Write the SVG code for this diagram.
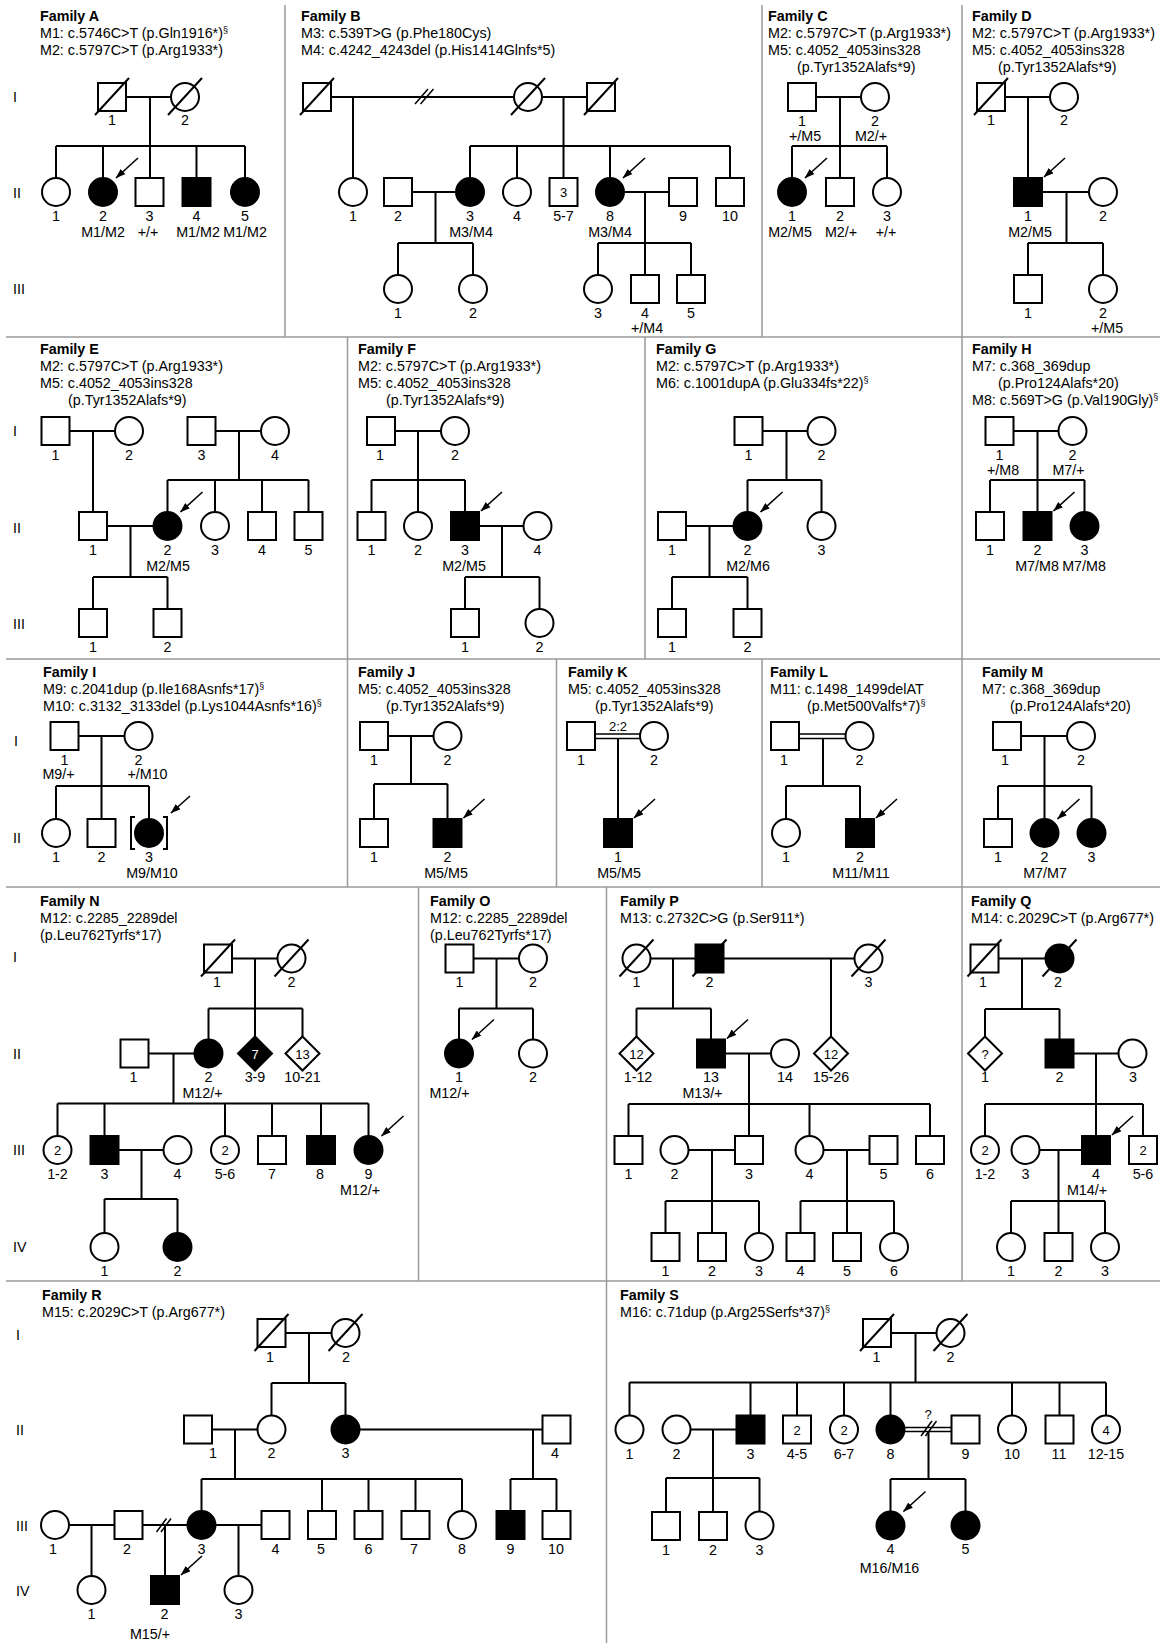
<svg xmlns="http://www.w3.org/2000/svg" xmlns:xlink="http://www.w3.org/1999/xlink" width="1163" height="1643" viewBox="0 0 1163 1643">
<style>
.n{fill:#fff;stroke:#000;stroke-width:2}
.f{fill:#000;stroke:#000;stroke-width:2}
.k{fill:none;stroke:#000;stroke-width:2}
.k2{fill:none;stroke:#000;stroke-width:1.5}
.dv{fill:none;stroke:#9a9a9a;stroke-width:1.5}
text{font-family:"Liberation Sans",Arial,Helvetica,sans-serif;font-size:14.3px;fill:#000}
.h{font-weight:bold}
.m{text-anchor:middle}
.w{fill:#fff}
.s{font-size:13px}
</style>
<defs>
<marker id="ah" viewBox="0 0 10 7" refX="9.5" refY="3.5" markerWidth="10" markerHeight="7" orient="auto" markerUnits="userSpaceOnUse"><path d="M0 0L10 3.5 0 7Z" fill="#000"/></marker>
<rect id="q" x="-14" y="-14" width="28" height="28"/>
<circle id="o" r="14"/>
<path id="dm" d="M0-17L17 0 0 17-17 0Z"/>
<path id="x" d="M-17 18L17-19" fill="none" stroke="#000" stroke-width="2"/>
<path id="ac" d="M35-34L13-14" fill="none" stroke="#000" stroke-width="1.6" marker-end="url(#ah)"/>
<path id="aq" d="M37-34L16-15" fill="none" stroke="#000" stroke-width="1.6" marker-end="url(#ah)"/>
</defs>
<rect width="1163" height="1643" fill="#fff"/>

<g id="dividers">
<path class="dv" d="M6 337H1160M6 659H1160M6 887H1160M6 1281H1160M285 5V337M762 5V337M962 5V1281M347.5 337V887M645 337V659M556.5 659V887M762 659V887M418.5 887V1281M606.5 887V1643"/>
</g>

<g id="generations">
<text x="13" y="102">I</text><text x="13" y="197.5">II</text><text x="13" y="294">III</text>
<text x="13" y="436">I</text><text x="13" y="532.5">II</text><text x="13" y="629">III</text>
<text x="14" y="746">I</text><text x="13" y="843">II</text>
<text x="13" y="962">I</text><text x="13" y="1058.5">II</text><text x="13" y="1155">III</text><text x="13" y="1252">IV</text>
<text x="16" y="1340">I</text><text x="16" y="1434.5">II</text><text x="16" y="1531">III</text><text x="16" y="1596">IV</text>
</g>

<g id="headers">
<g id="hA"><text class="h" x="40" y="20.5">Family A</text><text x="40" y="37.5">M1: c.5746C&gt;T (p.Gln1916*)<tspan font-size="9" dy="-5">§</tspan></text><text x="40" y="54.5">M2: c.5797C&gt;T (p.Arg1933*)</text></g>
<g id="hB"><text class="h" x="301" y="20.5">Family B</text><text x="301" y="37.5">M3: c.539T&gt;G (p.Phe180Cys)</text><text x="301" y="54.5">M4: c.4242_4243del (p.His1414Glnfs*5)</text></g>
<g id="hC"><text class="h" x="768" y="20.5">Family C</text><text x="768" y="37.5">M2: c.5797C&gt;T (p.Arg1933*)</text><text x="768" y="54.5">M5: c.4052_4053ins328</text><text x="797" y="71.5">(p.Tyr1352Alafs*9)</text></g>
<g id="hD"><text class="h" x="972" y="20.5">Family D</text><text x="972" y="37.5">M2: c.5797C&gt;T (p.Arg1933*)</text><text x="972" y="54.5">M5: c.4052_4053ins328</text><text x="998" y="71.5">(p.Tyr1352Alafs*9)</text></g>
<g id="hE"><text class="h" x="40" y="354">Family E</text><text x="40" y="371">M2: c.5797C&gt;T (p.Arg1933*)</text><text x="40" y="388">M5: c.4052_4053ins328</text><text x="68" y="405">(p.Tyr1352Alafs*9)</text></g>
<g id="hF"><text class="h" x="358" y="354">Family F</text><text x="358" y="371">M2: c.5797C&gt;T (p.Arg1933*)</text><text x="358" y="388">M5: c.4052_4053ins328</text><text x="386" y="405">(p.Tyr1352Alafs*9)</text></g>
<g id="hG"><text class="h" x="656" y="354">Family G</text><text x="656" y="371">M2: c.5797C&gt;T (p.Arg1933*)</text><text x="656" y="388">M6: c.1001dupA (p.Glu334fs*22)<tspan font-size="9" dy="-5">§</tspan></text></g>
<g id="hH"><text class="h" x="972" y="354">Family H</text><text x="972" y="371">M7: c.368_369dup</text><text x="998" y="388">(p.Pro124Alafs*20)</text><text x="972" y="405">M8: c.569T&gt;G (p.Val190Gly)<tspan font-size="9" dy="-5">§</tspan></text></g>
<g id="hI"><text class="h" x="43" y="677">Family I</text><text x="43" y="694">M9: c.2041dup (p.Ile168Asnfs*17)<tspan font-size="9" dy="-5">§</tspan></text><text x="43" y="711">M10: c.3132_3133del (p.Lys1044Asnfs*16)<tspan font-size="9" dy="-5">§</tspan></text></g>
<g id="hJ"><text class="h" x="358" y="677">Family J</text><text x="358" y="694">M5: c.4052_4053ins328</text><text x="386" y="711">(p.Tyr1352Alafs*9)</text></g>
<g id="hK"><text class="h" x="568" y="677">Family K</text><text x="568" y="694">M5: c.4052_4053ins328</text><text x="595" y="711">(p.Tyr1352Alafs*9)</text></g>
<g id="hL"><text class="h" x="770" y="677">Family L</text><text x="770" y="694">M11: c.1498_1499delAT</text><text x="807" y="711">(p.Met500Valfs*7)<tspan font-size="9" dy="-5">§</tspan></text></g>
<g id="hM"><text class="h" x="982" y="677">Family M</text><text x="982" y="694">M7: c.368_369dup</text><text x="1010" y="711">(p.Pro124Alafs*20)</text></g>
<g id="hN"><text class="h" x="40" y="906">Family N</text><text x="40" y="923">M12: c.2285_2289del</text><text x="40" y="940">(p.Leu762Tyrfs*17)</text></g>
<g id="hO"><text class="h" x="430" y="906">Family O</text><text x="430" y="923">M12: c.2285_2289del</text><text x="430" y="940">(p.Leu762Tyrfs*17)</text></g>
<g id="hP"><text class="h" x="620" y="906">Family P</text><text x="620" y="923">M13: c.2732C&gt;G (p.Ser911*)</text></g>
<g id="hQ"><text class="h" x="971" y="906">Family Q</text><text x="971" y="923">M14: c.2029C&gt;T (p.Arg677*)</text></g>
<g id="hR"><text class="h" x="42" y="1300">Family R</text><text x="42" y="1317">M15: c.2029C&gt;T (p.Arg677*)</text></g>
<g id="hS"><text class="h" x="620" y="1300">Family S</text><text x="620" y="1317">M16: c.71dup (p.Arg25Serfs*37)<tspan font-size="9" dy="-5">§</tspan></text></g>
</g>

<g id="connectors">
<path class="k" d="M126 97H171M150 97V178M56 146H245M56 146V178M103 146V178M196.5 146V178M245 146V178"/>
<path class="k" d="M331 97H514M353 97V178M542 97H587M563.5 97V178M470 146H730M470 146V178M517 146V178M610 146V178M730 146V178M412 192H456M435.5 192V243M398 243H473M398 243V275M473 243V275M624 192H669M645 192V275M598 243H691M598 243V275M691 243V275"/>
<path class="k2" d="M415 104L428 89M420.5 104L433.5 89"/>
<path class="k" d="M816 97H861M840 97V178M792 146H887M792 146V178M887 146V178"/>
<path class="k" d="M1005 97H1050M1028 97V178M1042 192H1089M1066.5 192V243M1028 243H1103M1028 243V275M1103 243V275"/>
<path class="k" d="M69.5 431H115M93 431V512M215.5 431H261M239 431V480M167.5 480H308.5M167.5 480V512M215 480V512M262 480V512M308.5 480V512M107 526H153.5M130.5 526V577M93 577H167.5M93 577V609M167.5 577V609"/>
<path class="k" d="M395 431H441M418 431V512M371.5 480H465M371.5 480V512M465 480V512M479 526H523.5M502 526V577M465 577H539.5M465 577V609M539.5 577V609"/>
<path class="k" d="M762.5 431H807.5M786.5 431V480M747.5 480H821.5M747.5 480V512M821.5 480V512M686 526H733.5M709.5 526V577M672 577H747.5M672 577V609M747.5 577V609"/>
<path class="k" d="M1013.5 431H1058.5M1037.5 431V512M990 480H1084.5M990 480V512M1084.5 480V512"/>
<path class="k" d="M78.5 736H124.5M101.5 736V819M56 786H149M56 786V819M149 786V819"/>
<path class="k" d="M135 817H131V849H135M163 817H167V849H163"/>
<path class="k" d="M388 736H433.5M411 736V784M374 784H447.5M374 784V819M447.5 784V819"/>
<path class="k2" d="M595 734H640M595 738.5H640"/>
<path class="k" d="M618 738V819"/>
<path class="k2" d="M799 734H845.5M799 738.5H845.5"/>
<path class="k" d="M823 738V786M786 786H860M786 786V819M860 786V819"/>
<path class="k" d="M1021 736H1067M1044.5 736V819M998 786H1091.5M998 786V819M1091.5 786V819"/>
<path class="k" d="M232 958.5H277.5M255 958.5V1036.5M208.5 1008.5H302.5M208.5 1008.5V1039.5M302.5 1008.5V1036.5M148.5 1053.5H194.5M173.5 1053.5V1103.5M57.5 1103.5H368.5M57.5 1103.5V1136M104.5 1103.5V1136M225 1103.5V1136M272 1103.5V1136M321 1103.5V1136M368.5 1103.5V1136M118.5 1150H163.5M141.5 1150V1199M104.5 1199H177.5M104.5 1199V1233M177.5 1199V1233"/>
<path class="k" d="M473.5 958.5H519M496.5 958.5V1008.5M459 1008.5H533M459 1008.5V1039.5M533 1008.5V1039.5"/>
<path class="k" d="M650.5 958.5H695.5M673 958.5V1008.5M636.5 1008.5H711M636.5 1008.5V1036.5M711 1008.5V1039.5M723.5 958.5H854.5M831 958.5V1036.5M725 1053.5H771M749 1053.5V1104M628.5 1104H930M628.5 1104V1136M749 1104V1136M809.5 1104V1136M930 1104V1136M688.5 1150H735M712 1150V1201M665.5 1201H759M665.5 1201V1233M712 1201V1233M759 1201V1233M823.5 1150H869.5M847 1150V1201M800.5 1201H894M800.5 1201V1233M847 1201V1233M894 1201V1233"/>
<path class="k" d="M998.5 958.5H1045.5M1022 958.5V1009M985 1009H1059.5M985 1009V1036.5M1059.5 1009V1039.5M1073.5 1053.5H1118.5M1096 1053.5V1136M985 1104H1143M985 1104V1136M1143 1104V1136M1039.5 1150H1082M1058.5 1150V1201M1011 1201H1105M1011 1201V1233M1058.5 1201V1233M1105 1201V1233"/>
<path class="k" d="M285.5 1333H331.5M309 1333V1383M271.5 1383H345.5M271.5 1383V1415.5M345.5 1383V1415.5M212 1429.5H257.5M235 1429.5V1479M201.5 1479H462M201.5 1479V1511M322 1479V1511M368.5 1479V1511M415.5 1479V1511M462 1479V1511M359.5 1429.5H542.5M533 1429.5V1479M510.5 1479H556.5M510.5 1479V1511M556.5 1479V1511M69 1525H114.5M91.5 1525V1576M142.5 1525H187.5M165 1525V1576M215.5 1525H261.5M238.5 1525V1576"/>
<path class="k2" d="M156.5 1532L166.5 1518.5M161 1532L171 1518.5"/>
<path class="k" d="M891 1333H936.5M915.5 1333V1382.5M629.5 1382.5H1106M629.5 1382.5V1415.5M750.5 1382.5V1415.5M797 1382.5V1415.5M844 1382.5V1415.5M890.5 1382.5V1415.5M1012 1382.5V1415.5M1059.5 1382.5V1415.5M1106 1382.5V1415.5M690.5 1429.5H736.5M713 1429.5V1478M666 1478H759.5M666 1478V1512M713 1478V1512M759.5 1478V1511.5M928.5 1431.5V1479M890.5 1479H965.5M890.5 1479V1511.5M965.5 1479V1511.5"/>
<path class="k2" d="M904.5 1427.5H951.5M904.5 1431.5H951.5M921 1436L932 1421M925.5 1436L936.5 1421"/>
</g>

<g id="famA">
<g id="A-I-1"><use href="#q" x="112" y="97" class="n"/><use href="#x" x="112" y="97"/><text class="m" x="112" y="125">1</text></g>
<g id="A-I-2"><use href="#o" x="185" y="97" class="n"/><use href="#x" x="185" y="97"/><text class="m" x="185" y="125">2</text></g>
<g id="A-II-1"><use href="#o" x="56" y="192" class="n"/><text class="m" x="56" y="220.5">1</text></g>
<g id="A-II-2"><use href="#o" x="103" y="192" class="f"/><use href="#ac" x="103" y="192"/><text class="m" x="103" y="220.5">2</text><text class="m" x="103" y="236.5">M1/M2</text></g>
<g id="A-II-3"><use href="#q" x="149.5" y="192" class="n"/><text class="m" x="149.5" y="220.5">3</text><text class="m" x="148" y="236.5">+/+</text></g>
<g id="A-II-4"><use href="#q" x="196.5" y="192" class="f"/><text class="m" x="196.5" y="220.5">4</text><text class="m" x="198" y="236.5">M1/M2</text></g>
<g id="A-II-5"><use href="#o" x="245" y="192" class="f"/><text class="m" x="245" y="220.5">5</text><text class="m" x="245" y="236.5">M1/M2</text></g>
</g>

<g id="famB">
<g id="B-I-1"><use href="#q" x="317" y="97" class="n"/><use href="#x" x="317" y="97"/></g>
<g id="B-I-2"><use href="#o" x="528" y="97" class="n"/><use href="#x" x="528" y="97"/></g>
<g id="B-I-3"><use href="#q" x="601" y="97" class="n"/><use href="#x" x="601" y="97"/></g>
<g id="B-II-1"><use href="#o" x="353" y="192" class="n"/><text class="m" x="353" y="220.5">1</text></g>
<g id="B-II-2"><use href="#q" x="398" y="192" class="n"/><text class="m" x="398" y="220.5">2</text></g>
<g id="B-II-3"><use href="#o" x="470" y="192" class="f"/><text class="m" x="470" y="220.5">3</text><text class="m" x="471" y="236.5">M3/M4</text></g>
<g id="B-II-4"><use href="#o" x="517" y="192" class="n"/><text class="m" x="517" y="220.5">4</text></g>
<g id="B-II-5-7"><use href="#q" x="563.5" y="192" class="n"/><text class="m s" x="563.5" y="197">3</text><text class="m" x="563.5" y="220.5">5-7</text></g>
<g id="B-II-8"><use href="#o" x="610" y="192" class="f"/><use href="#ac" x="610" y="192"/><text class="m" x="610" y="220.5">8</text><text class="m" x="610" y="236.5">M3/M4</text></g>
<g id="B-II-9"><use href="#q" x="683" y="192" class="n"/><text class="m" x="683" y="220.5">9</text></g>
<g id="B-II-10"><use href="#q" x="730" y="192" class="n"/><text class="m" x="730" y="220.5">10</text></g>
<g id="B-III-1"><use href="#o" x="398" y="289" class="n"/><text class="m" x="398" y="317.5">1</text></g>
<g id="B-III-2"><use href="#o" x="473" y="289" class="n"/><text class="m" x="473" y="317.5">2</text></g>
<g id="B-III-3"><use href="#o" x="598" y="289" class="n"/><text class="m" x="598" y="317.5">3</text></g>
<g id="B-III-4"><use href="#q" x="645" y="289" class="n"/><text class="m" x="645" y="317.5">4</text><text class="m" x="647" y="333">+/M4</text></g>
<g id="B-III-5"><use href="#q" x="691" y="289" class="n"/><text class="m" x="691" y="317.5">5</text></g>
</g>

<g id="famC">
<g id="C-I-1"><use href="#q" x="802" y="97" class="n"/><text class="m" x="802" y="125.5">1</text><text class="m" x="805" y="140.5">+/M5</text></g>
<g id="C-I-2"><use href="#o" x="875" y="97" class="n"/><text class="m" x="875" y="125.5">2</text><text class="m" x="871" y="140.5">M2/+</text></g>
<g id="C-II-1"><use href="#o" x="792" y="192" class="f"/><use href="#ac" x="792" y="192"/><text class="m" x="792" y="220.5">1</text><text class="m" x="790" y="236.5">M2/M5</text></g>
<g id="C-II-2"><use href="#q" x="840" y="192" class="n"/><text class="m" x="840" y="220.5">2</text><text class="m" x="841" y="236.5">M2/+</text></g>
<g id="C-II-3"><use href="#o" x="887" y="192" class="n"/><text class="m" x="887" y="220.5">3</text><text class="m" x="886" y="236.5">+/+</text></g>
</g>

<g id="famD">
<g id="D-I-1"><use href="#q" x="991" y="97" class="n"/><use href="#x" x="991" y="97"/><text class="m" x="991" y="125">1</text></g>
<g id="D-I-2"><use href="#o" x="1064" y="97" class="n"/><text class="m" x="1064" y="125">2</text></g>
<g id="D-II-1"><use href="#q" x="1028" y="192" class="f"/><use href="#aq" x="1028" y="192"/><text class="m" x="1028" y="220.5">1</text><text class="m" x="1030" y="236.5">M2/M5</text></g>
<g id="D-II-2"><use href="#o" x="1103" y="192" class="n"/><text class="m" x="1103" y="220.5">2</text></g>
<g id="D-III-1"><use href="#q" x="1028" y="289" class="n"/><text class="m" x="1028" y="317.5">1</text></g>
<g id="D-III-2"><use href="#o" x="1103" y="289" class="n"/><text class="m" x="1103" y="317.5">2</text><text class="m" x="1107" y="333">+/M5</text></g>
</g>

<g id="famE">
<g id="E-I-1"><use href="#q" x="55.5" y="431" class="n"/><text class="m" x="55.5" y="459.5">1</text></g>
<g id="E-I-2"><use href="#o" x="129" y="431" class="n"/><text class="m" x="129" y="459.5">2</text></g>
<g id="E-I-3"><use href="#q" x="201.5" y="431" class="n"/><text class="m" x="201.5" y="459.5">3</text></g>
<g id="E-I-4"><use href="#o" x="275" y="431" class="n"/><text class="m" x="275" y="459.5">4</text></g>
<g id="E-II-1"><use href="#q" x="93" y="526" class="n"/><text class="m" x="93" y="554.5">1</text></g>
<g id="E-II-2"><use href="#o" x="167.5" y="526" class="f"/><use href="#ac" x="167.5" y="526"/><text class="m" x="167.5" y="554.5">2</text><text class="m" x="168" y="570.5">M2/M5</text></g>
<g id="E-II-3"><use href="#o" x="215" y="526" class="n"/><text class="m" x="215" y="554.5">3</text></g>
<g id="E-II-4"><use href="#q" x="262" y="526" class="n"/><text class="m" x="262" y="554.5">4</text></g>
<g id="E-II-5"><use href="#q" x="308.5" y="526" class="n"/><text class="m" x="308.5" y="554.5">5</text></g>
<g id="E-III-1"><use href="#q" x="93" y="623" class="n"/><text class="m" x="93" y="651.5">1</text></g>
<g id="E-III-2"><use href="#q" x="167.5" y="623" class="n"/><text class="m" x="167.5" y="651.5">2</text></g>
</g>

<g id="famF">
<g id="F-I-1"><use href="#q" x="381" y="431" class="n"/><text class="m" x="380" y="459.5">1</text></g>
<g id="F-I-2"><use href="#o" x="455" y="431" class="n"/><text class="m" x="455" y="459.5">2</text></g>
<g id="F-II-1"><use href="#q" x="371.5" y="526" class="n"/><text class="m" x="371.5" y="554.5">1</text></g>
<g id="F-II-2"><use href="#o" x="418" y="526" class="n"/><text class="m" x="418" y="554.5">2</text></g>
<g id="F-II-3"><use href="#q" x="465" y="526" class="f"/><use href="#aq" x="465" y="526"/><text class="m" x="465" y="554.5">3</text><text class="m" x="464" y="570.5">M2/M5</text></g>
<g id="F-II-4"><use href="#o" x="537.5" y="526" class="n"/><text class="m" x="537.5" y="554.5">4</text></g>
<g id="F-III-1"><use href="#q" x="465" y="623" class="n"/><text class="m" x="465" y="651.5">1</text></g>
<g id="F-III-2"><use href="#o" x="539.5" y="623" class="n"/><text class="m" x="539.5" y="651.5">2</text></g>
</g>

<g id="famG">
<g id="G-I-1"><use href="#q" x="748.5" y="431" class="n"/><text class="m" x="748.5" y="459.5">1</text></g>
<g id="G-I-2"><use href="#o" x="821.5" y="431" class="n"/><text class="m" x="821.5" y="459.5">2</text></g>
<g id="G-II-1"><use href="#q" x="672" y="526" class="n"/><text class="m" x="672" y="554.5">1</text></g>
<g id="G-II-2"><use href="#o" x="747.5" y="526" class="f"/><use href="#ac" x="747.5" y="526"/><text class="m" x="747.5" y="554.5">2</text><text class="m" x="748" y="570.5">M2/M6</text></g>
<g id="G-II-3"><use href="#o" x="821.5" y="526" class="n"/><text class="m" x="821.5" y="554.5">3</text></g>
<g id="G-III-1"><use href="#q" x="672" y="623" class="n"/><text class="m" x="672" y="651.5">1</text></g>
<g id="G-III-2"><use href="#q" x="747.5" y="623" class="n"/><text class="m" x="747.5" y="651.5">2</text></g>
</g>

<g id="famH">
<g id="H-I-1"><use href="#q" x="999.5" y="431" class="n"/><text class="m" x="999.5" y="459.5">1</text><text class="m" x="1003" y="475">+/M8</text></g>
<g id="H-I-2"><use href="#o" x="1072.5" y="431" class="n"/><text class="m" x="1072.5" y="459.5">2</text><text class="m" x="1068.5" y="475">M7/+</text></g>
<g id="H-II-1"><use href="#q" x="990" y="526" class="n"/><text class="m" x="990" y="554.5">1</text></g>
<g id="H-II-2"><use href="#q" x="1037.5" y="526" class="f"/><use href="#aq" x="1037.5" y="526"/><text class="m" x="1037.5" y="554.5">2</text><text class="m" x="1037" y="570.5">M7/M8</text></g>
<g id="H-II-3"><use href="#o" x="1084.5" y="526" class="f"/><text class="m" x="1084.5" y="554.5">3</text><text class="m" x="1084" y="570.5">M7/M8</text></g>
</g>

<g id="famI">
<g id="I-I-1"><use href="#q" x="64.5" y="736" class="n"/><text class="m" x="64.5" y="764.5">1</text><text class="m" x="58.5" y="779">M9/+</text></g>
<g id="I-I-2"><use href="#o" x="138.5" y="736" class="n"/><text class="m" x="138.5" y="764.5">2</text><text class="m" x="147.5" y="779">+/M10</text></g>
<g id="I-II-1"><use href="#o" x="56" y="833" class="n"/><text class="m" x="56" y="861.5">1</text></g>
<g id="I-II-2"><use href="#q" x="101.5" y="833" class="n"/><text class="m" x="101.5" y="861.5">2</text></g>
<g id="I-II-3"><use href="#o" x="149" y="833" class="f"/><path d="M190 796L171 813" fill="none" stroke="#000" stroke-width="1.6" marker-end="url(#ah)"/><text class="m" x="149" y="861.5">3</text><text class="m" x="152" y="877.5">M9/M10</text></g>
</g>

<g id="famJ">
<g id="J-I-1"><use href="#q" x="374" y="736" class="n"/><text class="m" x="374" y="764.5">1</text></g>
<g id="J-I-2"><use href="#o" x="447.5" y="736" class="n"/><text class="m" x="447.5" y="764.5">2</text></g>
<g id="J-II-1"><use href="#q" x="374" y="833" class="n"/><text class="m" x="374" y="861.5">1</text></g>
<g id="J-II-2"><use href="#q" x="447.5" y="833" class="f"/><use href="#aq" x="447.5" y="833"/><text class="m" x="447.5" y="861.5">2</text><text class="m" x="446" y="877.5">M5/M5</text></g>
</g>

<g id="famK">
<text class="m s" x="618" y="731">2:2</text>
<g id="K-I-1"><use href="#q" x="581" y="736" class="n"/><text class="m" x="581" y="764.5">1</text></g>
<g id="K-I-2"><use href="#o" x="654" y="736" class="n"/><text class="m" x="654" y="764.5">2</text></g>
<g id="K-II-1"><use href="#q" x="618" y="833" class="f"/><use href="#aq" x="618" y="833"/><text class="m" x="618" y="861.5">1</text><text class="m" x="619" y="877.5">M5/M5</text></g>
</g>

<g id="famL">
<g id="L-I-1"><use href="#q" x="785" y="736" class="n"/><text class="m" x="784" y="764.5">1</text></g>
<g id="L-I-2"><use href="#o" x="859.5" y="736" class="n"/><text class="m" x="859.5" y="764.5">2</text></g>
<g id="L-II-1"><use href="#o" x="786" y="833" class="n"/><text class="m" x="786" y="861.5">1</text></g>
<g id="L-II-2"><use href="#q" x="860" y="833" class="f"/><use href="#aq" x="860" y="833"/><text class="m" x="860" y="861.5">2</text><text class="m" x="861" y="877.5">M11/M11</text></g>
</g>

<g id="famM">
<g id="M-I-1"><use href="#q" x="1007" y="736" class="n"/><text class="m" x="1005" y="764.5">1</text></g>
<g id="M-I-2"><use href="#o" x="1081" y="736" class="n"/><text class="m" x="1081" y="764.5">2</text></g>
<g id="M-II-1"><use href="#q" x="998" y="833" class="n"/><text class="m" x="998" y="861.5">1</text></g>
<g id="M-II-2"><use href="#o" x="1044.5" y="833" class="f"/><use href="#ac" x="1044.5" y="833"/><text class="m" x="1044.5" y="861.5">2</text><text class="m" x="1045" y="877.5">M7/M7</text></g>
<g id="M-II-3"><use href="#o" x="1091.5" y="833" class="f"/><text class="m" x="1091.5" y="861.5">3</text></g>
</g>

<g id="famN">
<g id="N-I-1"><use href="#q" x="218" y="958.5" class="n"/><use href="#x" x="218" y="958.5"/><text class="m" x="217" y="987">1</text></g>
<g id="N-I-2"><use href="#o" x="291.5" y="958.5" class="n"/><use href="#x" x="291.5" y="958.5"/><text class="m" x="291.5" y="987">2</text></g>
<g id="N-II-1"><use href="#q" x="134.5" y="1053.5" class="n"/><text class="m" x="133.5" y="1082">1</text></g>
<g id="N-II-2"><use href="#o" x="208.5" y="1053.5" class="f"/><text class="m" x="208.5" y="1082">2</text><text class="m" x="202.5" y="1098">M12/+</text></g>
<g id="N-II-3-9"><use href="#dm" x="255" y="1053.5" class="f"/><text class="m s w" x="255" y="1058.5">7</text><text class="m" x="255" y="1082">3-9</text></g>
<g id="N-II-10-21"><use href="#dm" x="302.5" y="1053.5" class="n"/><text class="m s" x="302.5" y="1058.5">13</text><text class="m" x="302.5" y="1082">10-21</text></g>
<g id="N-III-1-2"><use href="#o" x="57.5" y="1150" class="n"/><text class="m s" x="57.5" y="1155">2</text><text class="m" x="57.5" y="1178.5">1-2</text></g>
<g id="N-III-3"><use href="#q" x="104.5" y="1150" class="f"/><text class="m" x="104.5" y="1178.5">3</text></g>
<g id="N-III-4"><use href="#o" x="177.5" y="1150" class="n"/><text class="m" x="177.5" y="1178.5">4</text></g>
<g id="N-III-5-6"><use href="#o" x="225" y="1150" class="n"/><text class="m s" x="225" y="1155">2</text><text class="m" x="225" y="1178.5">5-6</text></g>
<g id="N-III-7"><use href="#q" x="272" y="1150" class="n"/><text class="m" x="272" y="1178.5">7</text></g>
<g id="N-III-8"><use href="#q" x="321" y="1150" class="f"/><text class="m" x="320" y="1178.5">8</text></g>
<g id="N-III-9"><use href="#o" x="368.5" y="1150" class="f"/><use href="#ac" x="368.5" y="1150"/><text class="m" x="368.5" y="1178.5">9</text><text class="m" x="360" y="1195">M12/+</text></g>
<g id="N-IV-1"><use href="#o" x="104.5" y="1247" class="n"/><text class="m" x="104.5" y="1275.5">1</text></g>
<g id="N-IV-2"><use href="#o" x="177.5" y="1247" class="f"/><text class="m" x="177.5" y="1275.5">2</text></g>
</g>

<g id="famO">
<g id="O-I-1"><use href="#q" x="459.5" y="958.5" class="n"/><text class="m" x="459.5" y="987">1</text></g>
<g id="O-I-2"><use href="#o" x="533" y="958.5" class="n"/><text class="m" x="533" y="987">2</text></g>
<g id="O-II-1"><use href="#o" x="459" y="1053.5" class="f"/><use href="#ac" x="459" y="1053.5"/><text class="m" x="459" y="1082">1</text><text class="m" x="449.5" y="1098">M12/+</text></g>
<g id="O-II-2"><use href="#o" x="533" y="1053.5" class="n"/><text class="m" x="533" y="1082">2</text></g>
</g>

<g id="famP">
<g id="P-I-1"><use href="#o" x="636.5" y="958.5" class="n"/><use href="#x" x="636.5" y="958.5"/><text class="m" x="636.5" y="987">1</text></g>
<g id="P-I-2"><use href="#q" x="709.5" y="958.5" class="f"/><use href="#x" x="709.5" y="958.5"/><text class="m" x="709.5" y="987">2</text></g>
<g id="P-I-3"><use href="#o" x="868.5" y="958.5" class="n"/><use href="#x" x="868.5" y="958.5"/><text class="m" x="868.5" y="987">3</text></g>
<g id="P-II-1-12"><use href="#dm" x="636.5" y="1053.5" class="n"/><text class="m s" x="636.5" y="1058.5">12</text><text class="m" x="638" y="1082">1-12</text></g>
<g id="P-II-13"><use href="#q" x="711" y="1053.5" class="f"/><use href="#aq" x="711" y="1053.5"/><text class="m" x="711" y="1082">13</text><text class="m" x="702.5" y="1098">M13/+</text></g>
<g id="P-II-14"><use href="#o" x="785" y="1053.5" class="n"/><text class="m" x="785" y="1082">14</text></g>
<g id="P-II-15-26"><use href="#dm" x="831" y="1053.5" class="n"/><text class="m s" x="831" y="1058.5">12</text><text class="m" x="831" y="1082">15-26</text></g>
<g id="P-III-1"><use href="#q" x="628.5" y="1150" class="n"/><text class="m" x="628.5" y="1178.5">1</text></g>
<g id="P-III-2"><use href="#o" x="674.5" y="1150" class="n"/><text class="m" x="674.5" y="1178.5">2</text></g>
<g id="P-III-3"><use href="#q" x="749" y="1150" class="n"/><text class="m" x="749" y="1178.5">3</text></g>
<g id="P-III-4"><use href="#o" x="809.5" y="1150" class="n"/><text class="m" x="809.5" y="1178.5">4</text></g>
<g id="P-III-5"><use href="#q" x="883.5" y="1150" class="n"/><text class="m" x="883.5" y="1178.5">5</text></g>
<g id="P-III-6"><use href="#q" x="930" y="1150" class="n"/><text class="m" x="930" y="1178.5">6</text></g>
<g id="P-IV-1"><use href="#q" x="665.5" y="1247" class="n"/><text class="m" x="665.5" y="1275.5">1</text></g>
<g id="P-IV-2"><use href="#q" x="712" y="1247" class="n"/><text class="m" x="712" y="1275.5">2</text></g>
<g id="P-IV-3"><use href="#o" x="759" y="1247" class="n"/><text class="m" x="759" y="1275.5">3</text></g>
<g id="P-IV-4"><use href="#q" x="800.5" y="1247" class="n"/><text class="m" x="800.5" y="1275.5">4</text></g>
<g id="P-IV-5"><use href="#q" x="847" y="1247" class="n"/><text class="m" x="847" y="1275.5">5</text></g>
<g id="P-IV-6"><use href="#o" x="894" y="1247" class="n"/><text class="m" x="894" y="1275.5">6</text></g>
</g>

<g id="famQ">
<g id="Q-I-1"><use href="#q" x="984.5" y="958.5" class="n"/><use href="#x" x="984.5" y="958.5"/><text class="m" x="983" y="987">1</text></g>
<g id="Q-I-2"><use href="#o" x="1059.5" y="958.5" class="f"/><use href="#x" x="1059.5" y="958.5"/><text class="m" x="1058" y="987">2</text></g>
<g id="Q-II-1"><use href="#dm" x="985" y="1053.5" class="n"/><text class="m s" x="985" y="1058.5">?</text><text class="m" x="985" y="1082">1</text></g>
<g id="Q-II-2"><use href="#q" x="1059.5" y="1053.5" class="f"/><text class="m" x="1059.5" y="1082">2</text></g>
<g id="Q-II-3"><use href="#o" x="1132.5" y="1053.5" class="n"/><text class="m" x="1133" y="1082">3</text></g>
<g id="Q-III-1-2"><use href="#o" x="985" y="1150" class="n"/><text class="m s" x="985" y="1155">2</text><text class="m" x="985" y="1178.5">1-2</text></g>
<g id="Q-III-3"><use href="#o" x="1025.5" y="1150" class="n"/><text class="m" x="1025.5" y="1178.5">3</text></g>
<g id="Q-III-4"><use href="#q" x="1096" y="1150" class="f"/><use href="#aq" x="1096" y="1150"/><text class="m" x="1096" y="1178.5">4</text><text class="m" x="1087" y="1195">M14/+</text></g>
<g id="Q-III-5-6"><use href="#q" x="1143" y="1150" class="n"/><text class="m s" x="1143" y="1155">2</text><text class="m" x="1143" y="1178.5">5-6</text></g>
<g id="Q-IV-1"><use href="#o" x="1011" y="1247" class="n"/><text class="m" x="1011" y="1275.5">1</text></g>
<g id="Q-IV-2"><use href="#q" x="1058.5" y="1247" class="n"/><text class="m" x="1058.5" y="1275.5">2</text></g>
<g id="Q-IV-3"><use href="#o" x="1105" y="1247" class="n"/><text class="m" x="1105" y="1275.5">3</text></g>
</g>

<g id="famR">
<g id="R-I-1"><use href="#q" x="271.5" y="1333" class="n"/><use href="#x" x="271.5" y="1333"/><text class="m" x="270" y="1362">1</text></g>
<g id="R-I-2"><use href="#o" x="345.5" y="1333" class="n"/><use href="#x" x="345.5" y="1333"/><text class="m" x="346" y="1362">2</text></g>
<g id="R-II-1"><use href="#q" x="198" y="1429.5" class="n"/><text class="m" x="213" y="1458">1</text></g>
<g id="R-II-2"><use href="#o" x="271.5" y="1429.5" class="n"/><text class="m" x="271.5" y="1458">2</text></g>
<g id="R-II-3"><use href="#o" x="345.5" y="1429.5" class="f"/><text class="m" x="345.5" y="1458">3</text></g>
<g id="R-II-4"><use href="#q" x="556.5" y="1429.5" class="n"/><text class="m" x="555" y="1458">4</text></g>
<g id="R-III-1"><use href="#o" x="55" y="1525" class="n"/><text class="m" x="53" y="1554">1</text></g>
<g id="R-III-2"><use href="#q" x="128.5" y="1525" class="n"/><text class="m" x="127" y="1554">2</text></g>
<g id="R-III-3"><use href="#o" x="201.5" y="1525" class="f"/><text class="m" x="201.5" y="1554">3</text></g>
<g id="R-III-4"><use href="#q" x="275.5" y="1525" class="n"/><text class="m" x="275.5" y="1554">4</text></g>
<g id="R-III-5"><use href="#q" x="322" y="1525" class="n"/><text class="m" x="321" y="1554">5</text></g>
<g id="R-III-6"><use href="#q" x="368.5" y="1525" class="n"/><text class="m" x="368.5" y="1554">6</text></g>
<g id="R-III-7"><use href="#q" x="415.5" y="1525" class="n"/><text class="m" x="414" y="1554">7</text></g>
<g id="R-III-8"><use href="#o" x="462" y="1525" class="n"/><text class="m" x="462" y="1554">8</text></g>
<g id="R-III-9"><use href="#q" x="510.5" y="1525" class="f"/><text class="m" x="510.5" y="1554">9</text></g>
<g id="R-III-10"><use href="#q" x="556.5" y="1525" class="n"/><text class="m" x="556" y="1554">10</text></g>
<g id="R-IV-1"><use href="#o" x="91.5" y="1590" class="n"/><text class="m" x="91.5" y="1619">1</text></g>
<g id="R-IV-2"><use href="#q" x="165" y="1590" class="f"/><use href="#aq" x="165" y="1590"/><text class="m" x="164.5" y="1619">2</text><text class="m" x="150" y="1638.5">M15/+</text></g>
<g id="R-IV-3"><use href="#o" x="238.5" y="1590" class="n"/><text class="m" x="238.5" y="1619">3</text></g>
</g>

<g id="famS">
<text class="m s" x="928" y="1419">?</text>
<g id="S-I-1"><use href="#q" x="877" y="1333" class="n"/><use href="#x" x="877" y="1333"/><text class="m" x="876.5" y="1362">1</text></g>
<g id="S-I-2"><use href="#o" x="950.5" y="1333" class="n"/><use href="#x" x="950.5" y="1333"/><text class="m" x="950.5" y="1362">2</text></g>
<g id="S-II-1"><use href="#o" x="629.5" y="1429.5" class="n"/><text class="m" x="629.5" y="1458.5">1</text></g>
<g id="S-II-2"><use href="#o" x="676.5" y="1429.5" class="n"/><text class="m" x="676.5" y="1458.5">2</text></g>
<g id="S-II-3"><use href="#q" x="750.5" y="1429.5" class="f"/><text class="m" x="750.5" y="1458.5">3</text></g>
<g id="S-II-4-5"><use href="#q" x="797" y="1429.5" class="n"/><text class="m s" x="797" y="1434.5">2</text><text class="m" x="797" y="1458.5">4-5</text></g>
<g id="S-II-6-7"><use href="#o" x="844" y="1429.5" class="n"/><text class="m s" x="844" y="1434.5">2</text><text class="m" x="844" y="1458.5">6-7</text></g>
<g id="S-II-8"><use href="#o" x="890.5" y="1429.5" class="f"/><text class="m" x="890.5" y="1458.5">8</text></g>
<g id="S-II-9"><use href="#q" x="965.5" y="1429.5" class="n"/><text class="m" x="965.5" y="1458.5">9</text></g>
<g id="S-II-10"><use href="#o" x="1012" y="1429.5" class="n"/><text class="m" x="1012" y="1458.5">10</text></g>
<g id="S-II-11"><use href="#q" x="1059.5" y="1429.5" class="n"/><text class="m" x="1059" y="1458.5">11</text></g>
<g id="S-II-12-15"><use href="#o" x="1106" y="1429.5" class="n"/><text class="m s" x="1106" y="1434.5">4</text><text class="m" x="1106" y="1458.5">12-15</text></g>
<g id="S-III-1"><use href="#q" x="666" y="1526" class="n"/><text class="m" x="666" y="1554.5">1</text></g>
<g id="S-III-2"><use href="#q" x="713" y="1526" class="n"/><text class="m" x="713" y="1554.5">2</text></g>
<g id="S-III-3"><use href="#o" x="759.5" y="1525.5" class="n"/><text class="m" x="759.5" y="1554.5">3</text></g>
<g id="S-III-4"><use href="#o" x="890.5" y="1525.5" class="f"/><use href="#ac" x="890.5" y="1525.5"/><text class="m" x="890.5" y="1554">4</text><text class="m" x="889.5" y="1573">M16/M16</text></g>
<g id="S-III-5"><use href="#o" x="965.5" y="1525.5" class="f"/><text class="m" x="965.5" y="1554">5</text></g>
</g>
</svg>
